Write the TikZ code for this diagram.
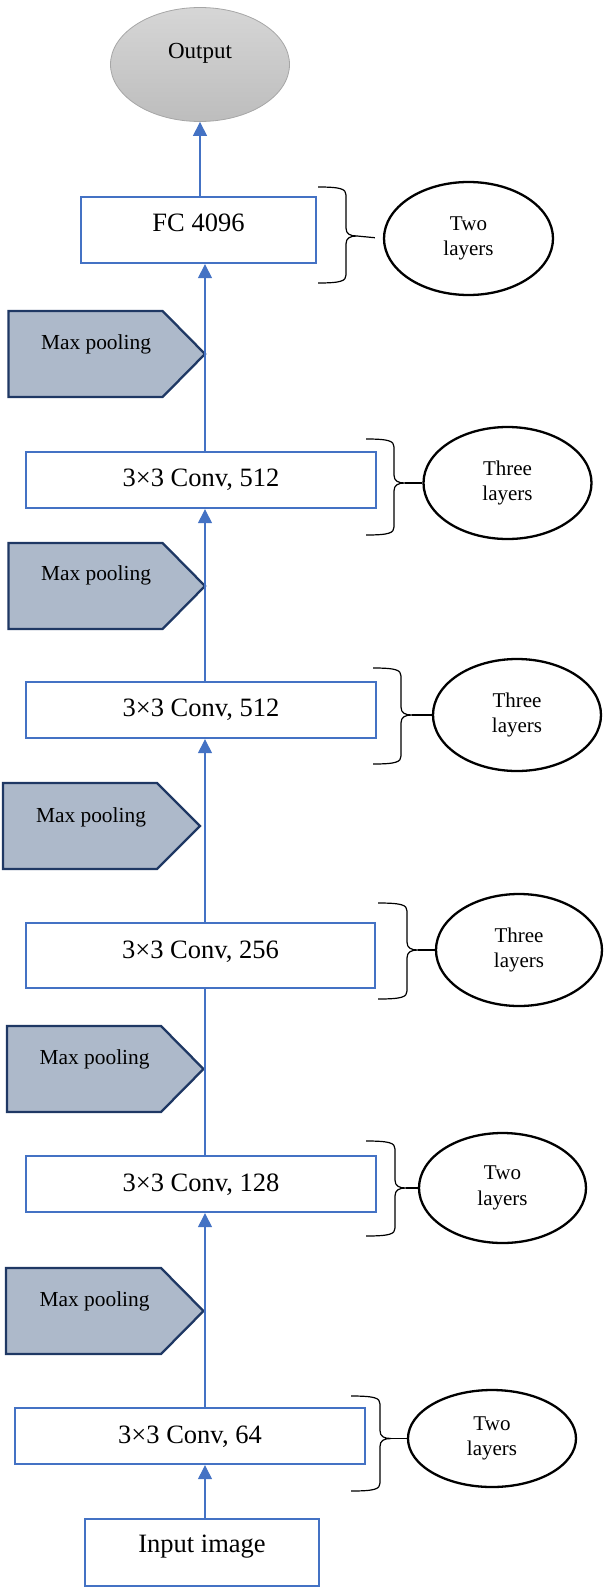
\documentclass[tikz,border=0pt]{standalone}
\usepackage{fontspec}
\setmainfont{Liberation Serif}
\usetikzlibrary{arrows.meta,shapes.geometric}
\definecolor{boxblue}{HTML}{4472C4}
\definecolor{poolfill}{HTML}{ADB9CA}
\definecolor{pooldraw}{HTML}{1F3864}
\definecolor{outtop}{HTML}{D6D6D6}
\definecolor{outbot}{HTML}{BDBDBD}
\definecolor{outdraw}{HTML}{A6A6A6}
\newcommand\mybrace[7][]{% [tip opts] x0, x1, ytop, ybot, ymid, ellipse
  \draw[brace] (#2,#4) .. controls (#3-5,#4) and (#3,#4+2) .. (#3,#4+8)
    -- (#3,#6-8) .. controls (#3,#6-2) and (#3+4,#6) .. (#3+11,#6)
    .. controls (#3+4,#6) and (#3,#6+2) .. (#3,#6+8)
    -- (#3,#5-8) .. controls (#3,#5-2) and (#3-5,#5) .. (#2,#5);
  \draw[brace,#1] (#3+11,#6) -- (#7.west);}
\newcommand\mypool[8]{% name, left, top, bottom, bodyend, tip, textx, texty
  \draw[poolshape] (#2,#3) -- (#5,#3) -- (#6,#3/2+#4/2) -- (#5,#4) -- (#2,#4) -- cycle;
  \node[pooltext] (#1) at (#7,#8) {Max pooling};}
\begin{document}
\begin{tikzpicture}[x=1pt,y=-1pt,
  box/.style={draw=boxblue,line width=2.3pt,fill=white,rectangle,inner sep=0pt,
    text height=18pt,font=\fontsize{26.5}{30}\selectfont},
  layer/.style={draw=black,line width=2.3pt,ellipse,inner sep=0pt,align=center,
    font=\fontsize{21}{25.5}\selectfont},
  pooltext/.style={font=\fontsize{21.4}{25}\selectfont,inner sep=0pt},
  poolshape/.style={draw=pooldraw,fill=poolfill,line width=2.3pt,line join=miter},
  flow/.style={draw=boxblue,line width=1.1pt},
  flowarr/.style={flow,-{Triangle[width=14pt,length=14pt]}},
  brace/.style={draw=black,line width=1.2pt},
]
\useasboundingbox (0,0) rectangle (603,1595);
\coordinate (sp) at (205,0);

% output
\node[ellipse,draw=outdraw,line width=0.8pt,top color=outtop,bottom color=outbot,
  minimum width=179pt,minimum height=114pt,inner sep=0pt,
  font=\fontsize{23}{27}\selectfont,text height=15pt,text depth=26pt] (out) at (200,64.5) {Output};

% boxes
\node[box,minimum width=235pt,minimum height=66pt,text depth=15pt] (fc) at (198.5,230) {FC 4096};
\node[box,minimum width=350pt,minimum height=56pt,text depth=5pt] (c512a) at (201,480) {3×3 Conv, 512};
\node[box,minimum width=350pt,minimum height=56pt,text depth=5pt] (c512b) at (201,710) {3×3 Conv, 512};
\node[box,minimum width=349pt,minimum height=65pt,text depth=12pt] (c256) at (200.5,955.5) {3×3 Conv, 256};
\node[box,minimum width=350pt,minimum height=56pt,text depth=2.5pt] (c128) at (201,1184) {3×3 Conv, 128};
\node[box,minimum width=350pt,minimum height=56pt,text depth=3.5pt] (c64) at (190,1436) {3×3 Conv, 64};
\node[box,minimum width=234pt,minimum height=67pt,text depth=17.5pt] (in) at (202,1552.5) {Input image};

% layer ellipses
\node[layer,minimum width=169pt,minimum height=113pt] (e1) at (468.5,238.5) {Two\\layers};
\node[layer,minimum width=168pt,minimum height=112pt] (e2) at (507.5,483) {Three\\layers};
\node[layer,minimum width=168pt,minimum height=112pt] (e3) at (517,715) {Three\\layers};
\node[layer,minimum width=166pt,minimum height=112pt] (e4) at (519,950) {Three\\layers};
\node[layer,minimum width=167pt,minimum height=110pt] (e5) at (502.5,1188) {Two\\layers};
\node[layer,minimum width=168pt,minimum height=97pt] (e6) at (492,1438.5) {Two\\layers};

% braces
\mybrace[shorten >=8pt]{318}{346}{187}{283}{236}{e1}
\mybrace{366}{394}{439}{535}{483}{e2}
\mybrace{373}{401}{668}{764}{715}{e3}
\mybrace{378}{407}{903}{999}{950}{e4}
\mybrace{366}{395}{1141}{1236}{1188}{e5}
\mybrace{351}{380}{1396}{1491}{1438.5}{e6}

% max pooling
\mypool{p1}{8.5}{311}{397}{162.6}{205}{96}{344}
\mypool{p2}{8.5}{543}{629}{162.6}{205}{96}{575.8}
\mypool{p3}{3}{783}{869}{157}{200}{91}{817}
\mypool{p4}{7}{1026}{1112}{161}{203.5}{94.6}{1059.5}
\mypool{p5}{6}{1268}{1354}{161}{203.5}{94.6}{1301.7}

% flow
\draw[flowarr] (in.north -| sp) -- (c64.south -| sp);
\draw[flowarr] (c64.north -| sp) -- (c128.south -| sp);
\draw[flow] (c128.north -| sp) -- (c256.south -| sp);
\draw[flowarr] (c256.north -| sp) -- (c512b.south -| sp);
\draw[flowarr] (c512b.north -| sp) -- (c512a.south -| sp);
\draw[flowarr] (c512a.north -| sp) -- (fc.south -| sp);
\draw[flowarr] (fc.north -| out.south) -- (out.south);
\end{tikzpicture}
\end{document}
